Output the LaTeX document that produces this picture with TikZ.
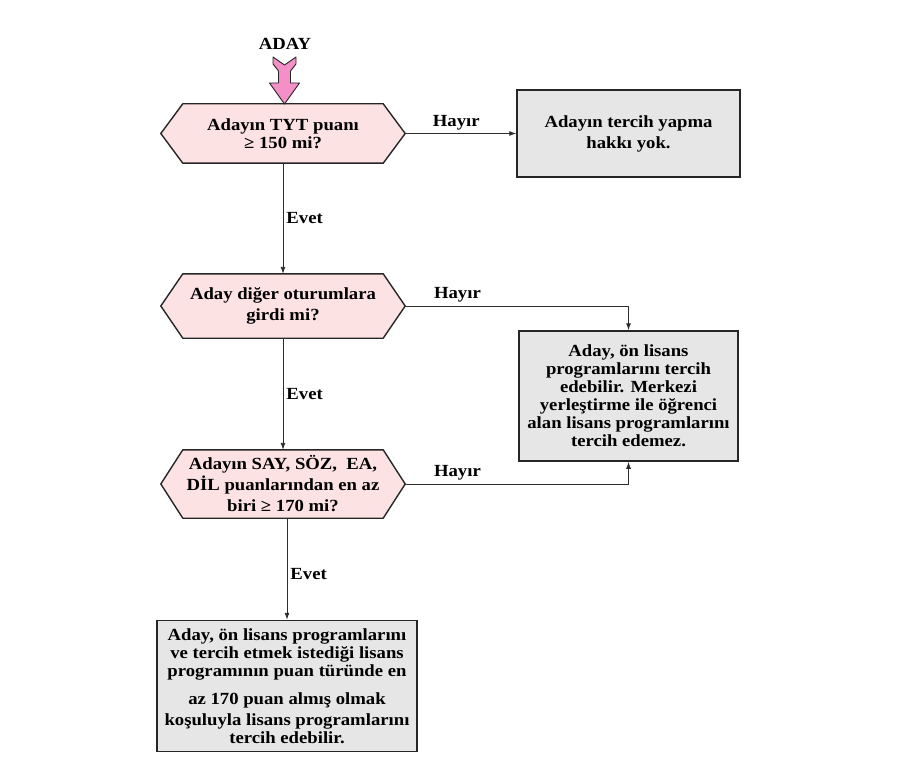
\documentclass[tikz,border=0pt]{standalone}
\usepackage{fontspec}
\setmainfont{Liberation Serif}[FakeStretch=1.1]
\usetikzlibrary{arrows.meta,backgrounds}

\definecolor{hexpink}{RGB}{253,226,228}
\definecolor{boxgray}{RGB}{230,230,230}
\definecolor{arrowpink}{RGB}{244,143,200}
\definecolor{linegray}{RGB}{45,45,45}

\tikzset{
	txt/.style={font=\bfseries\fontsize{17}{18}\selectfont, align=center, inner sep=0pt},
	question/.style={txt, minimum width=244pt, minimum height=#1},
	result/.style={txt, draw=black!85, line width=1.5pt, fill=boxgray},
	hexline/.style={draw=black!85, line width=1.4pt, fill=hexpink, line join=round},
	conn/.style={draw=linegray, line width=0.9pt, -{Latex[length=7pt,width=5pt]}},
	lbl/.style={font=\bfseries\fontsize{17}{18}\selectfont, inner sep=3pt},
}

\begin{document}
\begin{tikzpicture}[x=1pt, y=-1pt]
\useasboundingbox (0, 0) rectangle (917, 767);

% questions
\node[question=59pt] (q1) at (283, 133.5) {Adayın TYT puanı\\ ≥ 150 mi?};
\node[question=64pt, font=\bfseries\fontsize{17}{21}\selectfont] (q2) at (283, 306) {Aday diğer oturumlara\\ girdi mi?};
\node[question=68pt, font=\bfseries\fontsize{17}{21}\selectfont] (q3) at (283, 484) {Adayın SAY, SÖZ,\ \ EA,\\ DİL puanlarından en az\\ biri ≥ 170 mi?};

\begin{scope}[on background layer]
\foreach \q in {q1, q2, q3} {
	\draw[hexline] (\q.west) -- ([xshift=22pt]\q.north west) -- ([xshift=-22pt]\q.north east)
		-- (\q.east) -- ([xshift=-22pt]\q.south east) -- ([xshift=22pt]\q.south west) -- cycle;
}
\end{scope}

% results
\node[result, minimum width=223pt, minimum height=87pt, font=\bfseries\fontsize{17}{21}\selectfont] (r1) at (628.5, 133.5) {Adayın tercih yapma\\ hakkı yok.};
\node[result, minimum width=219pt, minimum height=130pt] (r2) at (628.5, 396) {Aday, ön lisans\\ programlarını tercih\\ edebilir. Merkezi\\ yerleştirme ile öğrenci\\ alan lisans programlarını\\ tercih edemez.};
\node[result, minimum width=260pt, minimum height=131pt] (r3) at (287, 686) {Aday, ön lisans programlarını\\ ve tercih etmek istediği lisans\\ programının puan türünde en\\[10pt] az 170 puan almış olmak\\[3pt] koşuluyla lisans programlarını\\ tercih edebilir.};

% start
\node[txt] (aday) at (285, 44) {ADAY};
\draw[fill=arrowpink, draw=black!85, line width=0.9pt, line join=round]
	(273, 57) -- (284.5, 65) -- (296, 57) -- (296, 64) -- (290.5, 71) -- (290.5, 83) -- (299.5, 83)
	-- (284.5, 104) -- (269.5, 83) -- (278.5, 83) -- (278.5, 71) -- (273, 64) -- cycle;

% connectors
\draw[conn] (q1.east) -- node[lbl, above, pos=0.46] {Hayır} (r1.west);
\draw[conn] (q1.south) -- node[lbl, right, midway] {Evet} (q2.north);
\draw[conn] (q2.east) -| node[lbl, above, pos=0.117] {Hayır} (r2.north);
\draw[conn] (q2.south) -- node[lbl, right, midway] {Evet} (q3.north);
\draw[conn] (q3.east) -| node[lbl, above, pos=0.117] {Hayır} (r2.south);
\draw[conn] (q3.south -| r3.north) -- node[lbl, right, pos=0.55] {Evet} (r3.north);
\end{tikzpicture}
\end{document}
